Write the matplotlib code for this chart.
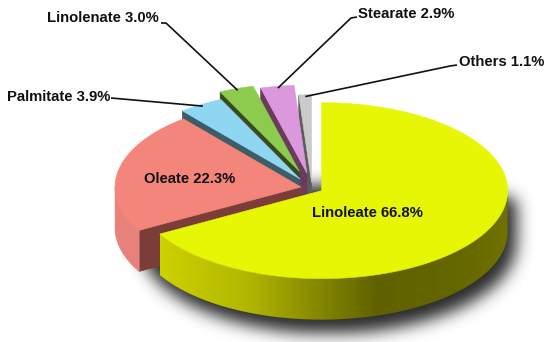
"""
3D exploded pie: fatty acid composition.
Slices are built as top face + visible radial face + front wall polygons,
drawn back-to-front in pixel coordinates.
"""
import numpy as np
import matplotlib
matplotlib.use('Agg')
import matplotlib.pyplot as plt
from matplotlib.patches import Polygon

# ---------------------------------------------------------------- data
names = ['Linoleate', 'Oleate', 'Palmitate', 'Linolenate', 'Stearate', 'Others']
shares = [66.8, 22.3, 3.9, 3.0, 2.9, 1.1]

# ---------------------------------------------------------------- style
explode = [0.06, 0.06, 0.12, 0.20, 0.17, 0.06]
top_colors = ['#e6f604', '#f4857b', '#8ed6f2', '#8ccb4e', '#dc98dc', '#cacaca']
face_colors = ['#5f6200', '#7a3d39', '#3e5c68', '#3b4a1c', '#6a3b5c', '#5c5c5c']
wall_colors = ['#b5b900', '#e6827b', '#6fa8c0', '#6a9a3a', '#b070b0', '#a0a0a0']
# label text positions (pixels) and leader-line elbows
label_pos = {'Linoleate': (367, 213), 'Oleate': (190, 179),
             'Palmitate': (7, 97), 'Linolenate': (47, 18),
             'Stearate': (358, 14), 'Others': (459, 62)}
leader_start = {'Palmitate': [(111, 98)],
                'Linolenate': [(161, 23), (166, 23)],
                'Stearate': [(357, 17), (351, 18)],
                'Others': [(457, 65), (450, 66)]}

W, H = 550, 342
cx, cy = 312.0, 188.0       # pie centre (pixels)
rx, ry = 186.0, 88.0        # ellipse radii of top face
depth = 41.0                # thickness


def pt(theta_deg, r, off, z=0.0):
    t = np.deg2rad(theta_deg)
    return (cx + off[0] + r * rx * np.cos(t),
            cy + off[1] - r * ry * np.sin(t) + z)


fig = plt.figure(figsize=(W / 100, H / 100), dpi=100)
ax = fig.add_axes([0, 0, 1, 1])
ax.set_xlim(0, W)
ax.set_ylim(H, 0)
ax.axis('off')

# ------------------------------------------------------------ drop shadow
yy, xx = np.mgrid[0:H, 0:W].astype(float)
sx, sy = cx + 16, cy + 14
u = np.clip((xx - sx) / (rx + 2), -1, 1)
half = (ry + 2) * np.sqrt(1 - u ** 2)
mask = ((np.abs(xx - sx) <= rx + 2) & (yy >= sy - half * 0.2) &
        (yy <= sy + depth + half)).astype(float)
k = np.arange(-25, 26)
kern = np.exp(-0.5 * (k / 8.0) ** 2)
kern /= kern.sum()
blur = np.apply_along_axis(lambda v: np.convolve(v, kern, mode='same'), 1, mask)
blur = np.apply_along_axis(lambda v: np.convolve(v, kern, mode='same'), 0, blur)
shadow = np.zeros((H, W, 4))
shadow[..., :3] = 0.12
shadow[..., 3] = 0.95 * blur
ax.imshow(shadow, extent=[0, W, H, 0], zorder=0, interpolation='bilinear')

# ------------------------------------------------------------ slice angles
# clockwise from 12 o'clock, stored as ccw spans [a1, a2]
spans = []
start = 90.0
for s in shares:
    sweep = 360.0 * s / sum(shares)
    spans.append((start - sweep, start))
    start -= sweep

offsets = []
for (a1, a2), e in zip(spans, explode):
    m = np.deg2rad(0.5 * (a1 + a2))
    offsets.append((e * rx * np.cos(m), -e * ry * np.sin(m)))

# gradient for the big slice's wall: light on the left, dark on the right
grad_x = np.array([0.0, 0.25, 0.62, 0.85, 1.0])
grad_r = np.array([205, 178, 96, 100, 112]) / 255
grad_g = np.array([210, 182, 98, 102, 114]) / 255

draw_order = [5, 4, 3, 2, 1, 0]
z = 1
for i in draw_order:
    a1, a2 = spans[i]
    off = offsets[i]
    c0 = pt(0, 0, off)
    # radial face at a2 (visible when it faces the viewer)
    if np.cos(np.deg2rad(a2)) < 0:
        quad = [c0, pt(a2, 1, off), pt(a2, 1, off, depth), pt(0, 0, off, depth)]
        ax.add_patch(Polygon(quad, closed=True, fc=face_colors[i], ec=face_colors[i],
                             lw=0.5, zorder=z))
    # curved front wall: parts of [a1, a2] lying in the front half (sin < 0)
    for kk in (-360.0, 0.0, 360.0):
        lo, hi = max(a1, kk - 180.0), min(a2, kk)
        if hi <= lo:
            continue
        th = np.linspace(lo, hi, int((hi - lo) * 2) + 2)
        wall = [pt(t, 1, off) for t in th] + [pt(t, 1, off, depth) for t in th[::-1]]
        if i == 0:
            patch = Polygon(wall, closed=True, fc='none', ec='none', zorder=z)
            ax.add_patch(patch)
            x0 = pt(lo, 1, off)[0]
            x1 = pt(hi, 1, off)[0]
            f = np.linspace(0, 1, 400)
            img = np.zeros((1, 400, 3))
            img[0, :, 0] = np.interp(f, grad_x, grad_r)
            img[0, :, 1] = np.interp(f, grad_x, grad_g)
            ys = [p[1] for p in wall]
            im = ax.imshow(img, extent=[x0, x1 + 1, max(ys) + 1, min(ys) - 1],
                           aspect='auto', zorder=z, interpolation='bilinear')
            im.set_clip_path(patch)
        else:
            ax.add_patch(Polygon(wall, closed=True, fc=wall_colors[i],
                                 ec=wall_colors[i], lw=0.4, zorder=z))
    # top face
    th = np.linspace(a1, a2, max(int(a2 - a1) * 2, 4) + 1)
    top = [c0] + [pt(t, 1, off) for t in th]
    ax.add_patch(Polygon(top, closed=True, fc=top_colors[i], ec=top_colors[i],
                         lw=0.4, zorder=z + 0.5))
    z += 1

ax.set_xlim(0, W)
ax.set_ylim(H, 0)

# ------------------------------------------------------------ labels
font = dict(family=['Liberation Sans', 'DejaVu Sans'], fontweight='bold',
            fontsize=10.7, color='#111111')
for i, name in enumerate(names):
    txt = f'{name} {shares[i]:.1f}%'
    x, y = label_pos[name]
    if name in ('Linoleate', 'Oleate'):
        ax.text(x, y, txt, ha='center', va='center', zorder=20, **font)
    else:
        ax.text(x, y, txt, ha='left', va='center', zorder=20, **font)
        a1, a2 = spans[i]
        tx, ty = pt(0.5 * (a1 + a2), 0.98, offsets[i])
        pts = leader_start[name] + [(tx, ty)]
        ax.plot([p[0] for p in pts], [p[1] for p in pts], color='#111111',
                lw=1.2, zorder=19, solid_capstyle='butt')

fig.savefig('out.png', dpi=100)
